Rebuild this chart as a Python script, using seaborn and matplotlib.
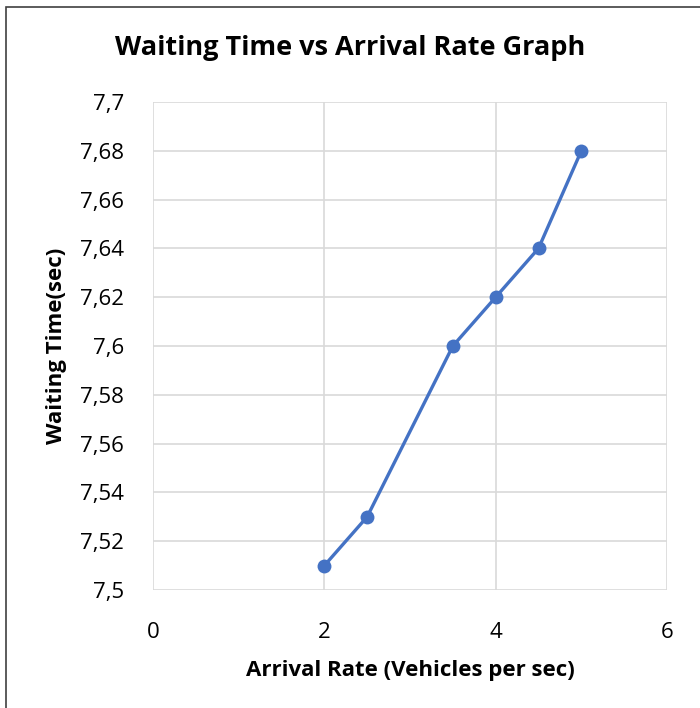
import matplotlib
matplotlib.use("Agg")
import matplotlib.pyplot as plt
import seaborn as sns
import pandas as pd
from matplotlib.patches import Rectangle

arrival_rate = [2, 2.5, 3.5, 4, 4.5, 5]
waiting_time = [7.51, 7.53, 7.60, 7.62, 7.64, 7.68]
x_ticks = [0, 2, 4, 6]
y_ticks = [7.5, 7.52, 7.54, 7.56, 7.58, 7.6, 7.62, 7.64, 7.66, 7.68, 7.7]
y_tick_labels = ["7,5", "7,52", "7,54", "7,56", "7,58", "7,6", "7,62", "7,64", "7,66", "7,68", "7,7"]

sns.set_theme(style="white")
plt.rcParams['font.family'] = ['Open Sans', 'DejaVu Sans']
plt.rcParams['text.color'] = 'black'

fig = plt.figure(figsize=(7, 7.08), dpi=100)
ax = fig.add_axes([153/700, 1-590/708, (667-153)/700, (590-102)/708])

df = pd.DataFrame({"x": arrival_rate, "y": waiting_time})
sns.lineplot(data=df, x="x", y="y", ax=ax, color="#4472C4", linewidth=2.4,
             marker="o", markersize=10, markeredgewidth=0, zorder=3)

ax.set_xlim(0, 6)
ax.set_ylim(7.5, 7.7)
ax.set_xticks(x_ticks)
ax.set_xticklabels([str(t) for t in x_ticks])
ax.set_yticks(y_ticks)
ax.set_yticklabels(y_tick_labels)
ax.grid(True, color="#d9d9d9", linewidth=1.2)
for s in ax.spines.values():
    s.set_visible(False)
ax.tick_params(axis="both", labelsize=16, length=0, colors="#000000")
ax.tick_params(axis="x", pad=23)
ax.tick_params(axis="y", pad=21)

ax.set_xlabel("Arrival Rate (Vehicles per sec)", fontsize=16, fontweight="bold",
              labelpad=12, color="black")
ax.set_ylabel("Waiting Time(sec)", fontsize=16, fontweight="bold", labelpad=9,
              color="black")
fig.text(0.5, 1-48/708, "Waiting Time vs Arrival Rate Graph", ha="center", va="center",
         fontsize=19.5, fontweight="bold", color="black")

fig.patches.append(Rectangle((6/700, -0.1), 1.2, 1-7/708+0.1, transform=fig.transFigure,
                             fill=False, edgecolor="#404040", linewidth=1.2))

fig.savefig("out.png", dpi=100)
